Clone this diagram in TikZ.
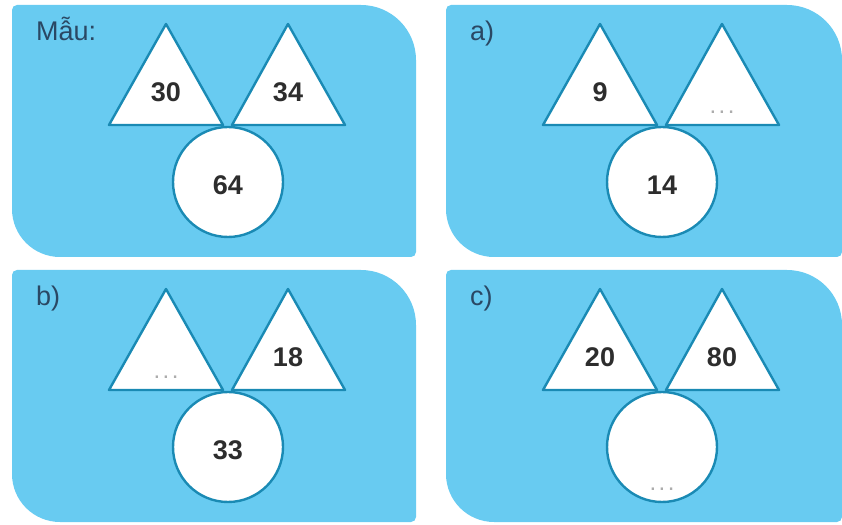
\documentclass[tikz,border=0pt]{standalone}
\usepackage{fontspec}
\setmainfont{Liberation Sans}
\usepackage{xcolor}
\definecolor{nen}{RGB}{104,203,241}
\definecolor{vien}{RGB}{26,138,180}
\definecolor{chu}{RGB}{45,45,45}
\definecolor{nhan}{RGB}{42,72,100}
\usepackage{tikz}
\usetikzlibrary{calc,positioning}

\newcommand{\bacham}{.\hspace{2.5pt}.\hspace{2.5pt}.}

\tikzset{
  khung/.style={fill=nen},
  hinh/.style={fill=white,draw=vien,line width=2.4pt,line join=round},
  so/.style={font=\fontsize{27}{30}\selectfont\bfseries,text=chu,inner sep=0pt},
  cham/.style={font=\fontsize{24}{26}\selectfont,text=gray!65,inner sep=0pt,anchor=base},
  nhanbai/.style={font=\fontsize{27}{30}\selectfont,text=nhan,inner sep=0pt,anchor=base west},
}

\begin{document}
\begin{tikzpicture}[x=1pt,y=1pt]
    \useasboundingbox (0,0) rectangle (842,524);
    \foreach \i/\ox/\oy/\w in {1/12/267/404,2/446/267/396,3/12/2/404,4/446/2/396}{
      \begin{scope}[shift={(\ox,\oy)}]
        \fill[khung] (0,48) -- (0,247) arc(180:90:5) -- (\w-55,252) arc(90:0:55)
          -- (\w,5) arc(0:-90:5) -- (48,0) arc(270:180:48) -- cycle;
        \draw[hinh] (97,132) -- (211,132) -- (154,233) -- cycle;
        \draw[hinh] (220,132) -- (333,132) -- (276,233) -- cycle;
        \node[hinh,circle,minimum size=110pt,inner sep=0pt] (tron\i) at (216,75) {};
        \coordinate (trai\i) at (154,165);
        \coordinate (phai\i) at (276,165);
        \coordinate (goc\i) at (24,216);
      \end{scope}
    }
    \node[nhanbai] (nhan1) at (goc1) {Mẫu:};
    \node[so] (s1a) at (trai1) {30};
    \node[so] (s1b) at (phai1) {34};
    \node[so] (s1c) at ($(tron1)+(0,-3)$) {64};
    \node[nhanbai] (nhan2) at (goc2) {a)};
    \node[so] (s2a) at (trai2) {9};
    \node[cham] (s2b) at ($(phai2)+(0,-22)$) {\bacham};
    \node[so] (s2c) at ($(tron2)+(0,-3)$) {14};
    \node[nhanbai] (nhan3) at (goc3) {b)};
    \node[cham] (s3a) at ($(trai3)+(0,-22)$) {\bacham};
    \node[so] (s3b) at (phai3) {18};
    \node[so] (s3c) at ($(tron3)+(0,-3)$) {33};
    \node[nhanbai] (nhan4) at (goc4) {c)};
    \node[so] (s4a) at (trai4) {20};
    \node[so] (s4b) at (phai4) {80};
    \node[cham] (s4c) at ($(tron4)+(0,-44)$) {\bacham};
\end{tikzpicture}
\end{document}
